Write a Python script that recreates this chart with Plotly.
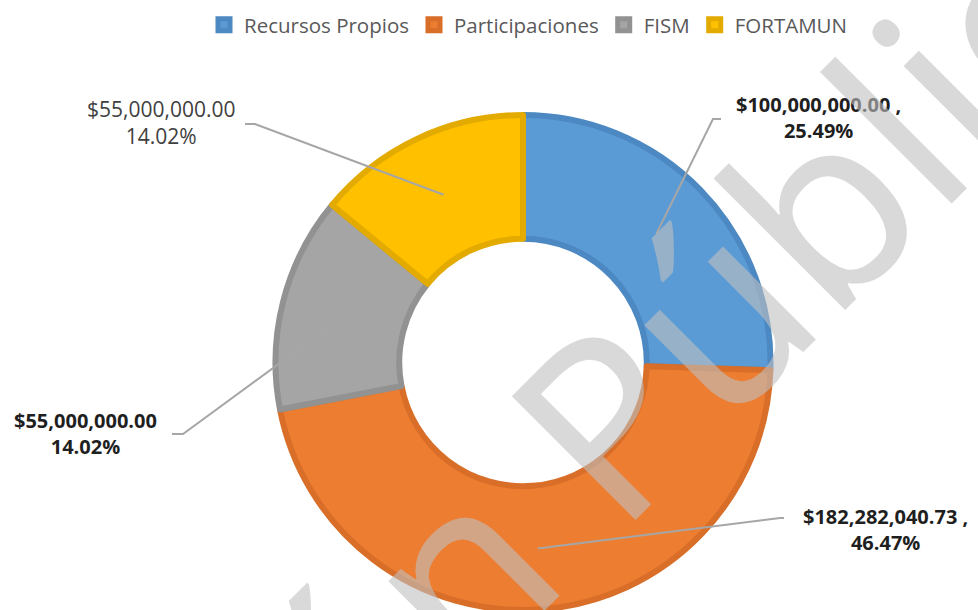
import math
import plotly.graph_objects as go

# ---------------- data ----------------
labels = ["Recursos Propios", "Participaciones", "FISM", "FORTAMUN"]
values = [100000000.00, 182282040.73, 55000000.00, 55000000.00]
fill_colors = ["#5B9BD5", "#ED7D31", "#A5A5A5", "#FFC000"]
border_colors = ["#4C88C2", "#D86E28", "#929292", "#E3AA00"]
label_separators = [" ,<br>", " ,<br>", "<br>", "<br>"]
label_bold = [True, True, True, False]

# ---------------- layout constants ----------------
W, H = 978, 610
CX, CY, R = 523, 363, 248          # pixel centre / radius of the donut fill
HOLE = 0.5
LINE_W = 6

# label anchor (pixel) and leader elbow/end (pixel) per slice
label_pos = [(818, 117), (885, 529), (85, 433), (161, 123)]
leader_elbow = [(713, 119), (780, 518), (183, 434), (255, 124)]
leader_end = [(721, 119), (784, 518), (172, 434), (245, 124)]


def px(x):
    return x / W


def py(y):
    return 1 - y / H


dom_x = [px(CX - R), px(CX + R)]
dom_y = [max(0.0, py(CY + R)), py(CY - R)]

fig = go.Figure()
fig.add_trace(go.Pie(
    labels=labels,
    values=values,
    hole=HOLE,
    sort=False,
    direction="clockwise",
    rotation=0,
    textinfo="none",
    hoverinfo="label+value+percent",
    marker=dict(colors=fill_colors, line=dict(color=border_colors, width=LINE_W)),
    domain=dict(x=dom_x, y=dom_y),
))

total = sum(values)
cum = 0.0
annotations = []
shapes = []
r_mid = R * (1 + HOLE) / 2
for i, v in enumerate(values):
    frac_mid = (cum + v / 2) / total
    cum += v
    ang = 2 * math.pi * frac_mid          # clockwise from 12 o'clock
    sx = CX + r_mid * math.sin(ang)
    sy = CY - r_mid * math.cos(ang)
    ex, ey = leader_elbow[i]
    fx, fy = leader_end[i]
    shapes.append(dict(
        type="path", xref="paper", yref="paper",
        path=f"M {px(sx)} {py(sy)} L {px(ex)} {py(ey)} L {px(fx)} {py(fy)}",
        line=dict(color="#A6A6A6", width=2),
    ))
    pct = v / total * 100
    txt = f"${v:,.2f}{label_separators[i]}{pct:.2f}%"
    if label_bold[i]:
        txt = "<b>" + txt.replace("<br>", "</b><br><b>") + "</b>"
    lx, ly = label_pos[i]
    annotations.append(dict(
        x=px(lx), y=py(ly), xref="paper", yref="paper",
        text=txt, showarrow=False, align="center",
        xanchor="center", yanchor="middle",
        font=dict(family="Open Sans", size=20 if label_bold[i] else 21,
                  color="#1F1F1F" if label_bold[i] else "#404040"),
    ))

# watermark
annotations.append(dict(
    x=px(518), y=py(503), xref="paper", yref="paper",
    text="Versión Pública", showarrow=False, textangle=-45,
    xanchor="center", yanchor="middle",
    font=dict(family="Noto Sans", size=245, color="rgba(192,192,192,0.6)"),
))

fig.update_layout(
    width=W, height=H,
    margin=dict(l=0, r=0, t=0, b=0),
    paper_bgcolor="white",
    plot_bgcolor="white",
    showlegend=True,
    legend=dict(
        orientation="h", x=px(528), xanchor="center", y=0.992, yanchor="top",
        font=dict(family="Open Sans", size=20.5, color="#595959"),
        itemwidth=30,
        itemclick=False,
    ),
    annotations=annotations,
    shapes=shapes,
)

fig.write_html("out.html", config={"displayModeBar": False},
               post_script="document.body.style.margin='0';")
